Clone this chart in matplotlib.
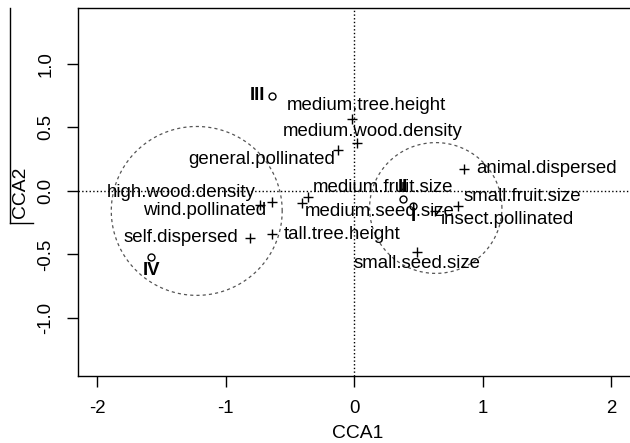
import numpy as np
import matplotlib
matplotlib.use("Agg")
from matplotlib import pyplot as plt
from matplotlib.lines import Line2D

plt.rcParams['font.family'] = ['Liberation Sans', 'DejaVu Sans']

# trait (species) scores
trait_names = ["medium.tree.height", "medium.wood.density", "general.pollinated",
               "medium.fruit.size", "medium.seed.size", "high.wood.density",
               "wind.pollinated", "self.dispersed", "tall.tree.height",
               "insect.pollinated", "small.fruit.size", "animal.dispersed",
               "small.seed.size"]
trait_cca1 = [-0.018, 0.021, -0.125, -0.358, -0.405, -0.732, -0.638, -0.809, -0.638,
              0.630, 0.809, 0.856, 0.488]
trait_cca2 = [0.567, 0.378, 0.323, -0.047, -0.094, -0.110, -0.087, -0.370, -0.339,
              -0.157, -0.118, 0.173, -0.478]

# site scores
site_names = ["I", "II", "III", "IV"]
site_cca1 = [0.459, 0.381, -0.638, -1.580]
site_cca2 = [-0.118, -0.063, 0.748, -0.520]

# group circles: centre x, centre y, radius
circle_cx = [-1.226, 0.634]
circle_cy = [-0.157, -0.134]
circle_r = [0.665, 0.515]

# label placement (offset in pixels, horizontal alignment)
trait_offsets = [(-65, 13, 'left'), (-74, 11, 'left'), (-3, -10, 'right'),
                 (5, 9, 'left'), (3, -9, 'left'), (-5, 12, 'right'),
                 (-6, -8, 'right'), (-12, 0, 'right'), (11, 0, 'left'),
                 (6, -9, 'left'), (5, 9, 'left'), (12, 1, 'left'),
                 (0, -12, 'center')]
site_offsets = [(0, -11, 'center'), (0, 11, 'center'), (-7, 0, 'right'), (0, -13, 'center')]

fs = 13.4
fig = plt.figure(figsize=(6.3, 4.43), dpi=100)
ax = fig.add_axes([78 / 630, 67 / 443, 559 / 630, 368 / 443])
ax.set_xlim(-2.15, 2.2)
ax.set_ylim(-1.457, 1.441)

ax.axhline(0, color='black', ls=':', lw=1)
ax.axvline(0, color='black', ls=':', lw=1)

t = np.linspace(0, 2 * np.pi, 300)
for cx, cy, r in zip(circle_cx, circle_cy, circle_r):
    ax.plot(cx + r * np.cos(t), cy + r * np.sin(t), color='#555555', lw=0.9,
            ls=(0, (2.5, 2.5)))

ax.plot(trait_cca1, trait_cca2, ls='none', marker='+', color='black', ms=6.5, mew=1)
for name, x, y, (dx, dy, ha) in zip(trait_names, trait_cca1, trait_cca2, trait_offsets):
    ax.annotate(name, (x, y), xytext=(dx, dy), textcoords='offset pixels',
                ha=ha, va='center', fontsize=fs)

ax.plot(site_cca1, site_cca2, ls='none', marker='o', mfc='none', mec='black', ms=5, mew=1)
for name, x, y, (dx, dy, ha) in zip(site_names, site_cca1, site_cca2, site_offsets):
    ax.annotate(name, (x, y), xytext=(dx, dy), textcoords='offset pixels',
                ha=ha, va='center', fontsize=fs, fontweight='bold')

ax.set_xticks([-2, -1, 0, 1, 2])
ax.set_xticklabels(["-2", "-1", "0", "1", "2"], fontsize=fs)
ax.set_yticks([-1.0, -0.5, 0.0, 0.5, 1.0])
ax.set_yticklabels(["-1.0", "-0.5", "0.0", "0.5", "1.0"], fontsize=fs,
                   rotation=90, va='center')
ax.tick_params(direction='out', length=8, width=1, pad=9)
ax.set_xlabel("CCA1", fontsize=fs + 0.5, labelpad=6)
ax.set_ylabel("CCA2", fontsize=fs + 0.5, labelpad=6)
for s in ax.spines.values():
    s.set_linewidth(1)

# stray frame line on the left margin
fig.add_artist(Line2D([10 / 630, 10 / 630], [1 - 8 / 443, 1 - 223 / 443],
                      transform=fig.transFigure, color='black', lw=1))
fig.add_artist(Line2D([10 / 630, 33 / 630], [1 - 223 / 443, 1 - 223 / 443],
                      transform=fig.transFigure, color='black', lw=1))

fig.savefig("out.png", dpi=100)
